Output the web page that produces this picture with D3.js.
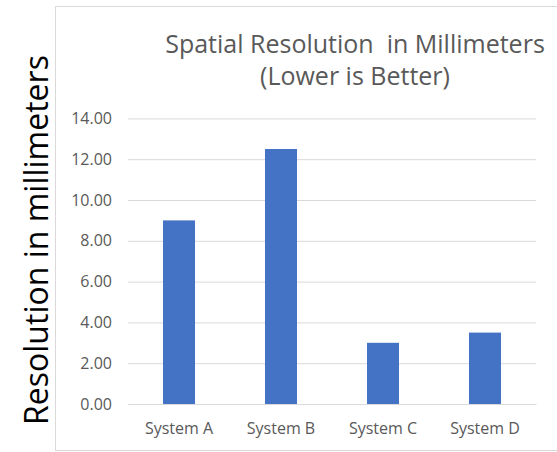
<!DOCTYPE html>
<html>
<head>
<meta charset="utf-8">
<script src="https://cdn.jsdelivr.net/npm/d3@7"></script>
<style>
  html, body { margin: 0; padding: 0; background: #fff; }
  svg { display: block; }
  svg text { font-family: "Open Sans", "Noto Sans", sans-serif; white-space: pre; }
</style>
</head>
<body>
<svg id="chart" width="557" height="452"></svg>
<script>
// Spatial resolution per system, in millimeters
const categories = ["System A", "System B", "System C", "System D"];
const values = [9, 12.5, 3, 3.5];
const yTicks = [0, 2, 4, 6, 8, 10, 12, 14];
const titleLines = ["Spatial Resolution  in Millimeters", "(Lower is Better)"];
const yTitle = "Resolution in millimeters";

const svg = d3.select("#chart");
const plot = { left: 128, right: 536, top: 118.4, bottom: 404 };

// chart frame
svg.append("rect")
  .attr("x", 55.5).attr("y", 6.5)
  .attr("width", 520).attr("height", 444)
  .attr("fill", "#fff").attr("stroke", "#d9d9d9").attr("stroke-width", 1);

const x = d3.scaleBand()
  .domain(categories)
  .range([plot.left, plot.right])
  .paddingInner(0.686)
  .paddingOuter(0.343);

const y = d3.scaleLinear()
  .domain([0, 14])
  .range([plot.bottom, plot.top]);

// gridlines and value labels
const yAxis = d3.axisLeft(y)
  .tickValues(yTicks)
  .tickSize(-(plot.right - plot.left))
  .tickPadding(16)
  .tickFormat(d3.format(".2f"));

const gy = svg.append("g")
  .attr("transform", `translate(${plot.left},0)`)
  .call(yAxis)
  .attr("font-family", null);
gy.select(".domain").remove();
gy.selectAll(".tick line").attr("stroke", "#d9d9d9").attr("stroke-width", 1);
gy.selectAll(".tick text")
  .attr("fill", "#595959")
  .style("font-size", "16px");

// bars
svg.append("g").selectAll("rect")
  .data(values)
  .join("rect")
  .attr("x", (d, i) => x(categories[i]))
  .attr("width", x.bandwidth())
  .attr("y", d => y(d))
  .attr("height", d => y(0) - y(d))
  .attr("fill", "#4472c4");

// category axis
const xAxis = d3.axisBottom(x).tickSize(0).tickPadding(19);
const gx = svg.append("g")
  .attr("transform", `translate(0,${plot.bottom})`)
  .call(xAxis)
  .attr("font-family", null);
gx.select(".domain").attr("stroke", "#d9d9d9");
gx.selectAll(".tick text")
  .attr("fill", "#595959")
  .style("font-size", "16px");

// title
svg.append("text")
  .attr("x", 355).attr("y", 53)
  .attr("text-anchor", "middle")
  .attr("fill", "#595959")
  .style("font-size", "25px")
  .selectAll("tspan")
  .data(titleLines)
  .join("tspan")
  .attr("x", 355)
  .attr("dy", (d, i) => i === 0 ? 0 : 32)
  .text(d => d);

// y-axis title
svg.append("text")
  .attr("transform", "translate(48,240) rotate(-90)")
  .attr("text-anchor", "middle")
  .attr("fill", "#000")
  .style("font-size", "32px")
  .text(yTitle);
</script>
</body>
</html>
